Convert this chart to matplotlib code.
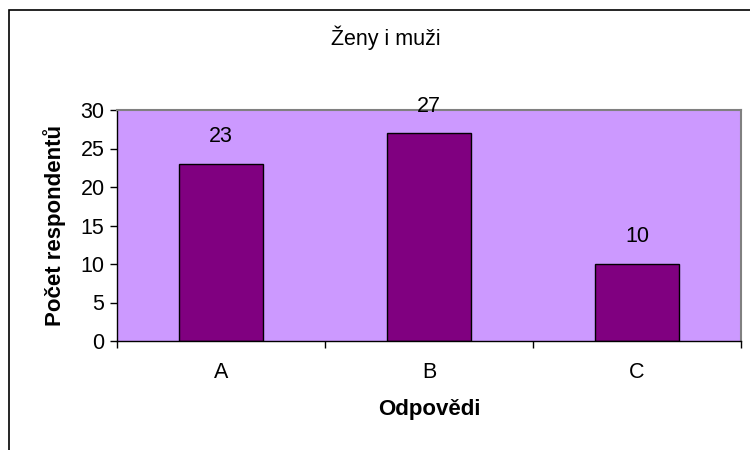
import matplotlib
matplotlib.use("Agg")
import matplotlib.pyplot as plt
from matplotlib.patches import Rectangle
from matplotlib.ticker import FixedLocator, NullFormatter

categories = ["A", "B", "C"]
values = [23, 27, 10]
title = "Ženy i muži"
x_label = "Odpovědi"
y_label = "Počet respondentů"

plt.rcParams['font.family'] = ['Liberation Sans', 'DejaVu Sans']

fig = plt.figure(figsize=(7.5, 4.5), dpi=100)
fig.patch.set_facecolor("white")
ax = fig.add_axes([117 / 750, 1 - 341 / 450, (741 - 117) / 750, (341 - 110) / 450])
ax.set_facecolor("#CC99FF")

# outer chart frame (runs off the canvas on the right and bottom)
fig.patches.append(Rectangle((9 / 750, -0.2), 1.2, 1.2 - 10 / 450,
                             transform=fig.transFigure, fill=False,
                             edgecolor="black", linewidth=1.2, clip_on=False))

xs = range(len(categories))
ax.bar(xs, values, width=0.405, color="#800080", edgecolor="black", linewidth=1.0)
for x, v in zip(xs, values):
    ax.annotate(str(v), (x, v), xytext=(0, 19.5), textcoords="offset points",
                ha="center", va="center", fontsize=15.5)

ax.set_xlim(-0.5, len(categories) - 0.5)
ax.set_ylim(0, 30)
ax.set_yticks(range(0, 31, 5))
ax.set_xticks(list(xs))
ax.set_xticklabels(categories)
ax.xaxis.set_minor_locator(FixedLocator([i - 0.5 for i in range(len(categories) + 1)]))
ax.xaxis.set_minor_formatter(NullFormatter())
ax.tick_params(axis="x", which="major", length=0, pad=15, labelsize=15.5)
ax.tick_params(axis="x", which="minor", length=5, width=1, direction="out")
ax.tick_params(axis="y", length=5, width=1, direction="out", labelsize=15.5, pad=4)

for side in ["top", "right"]:
    ax.spines[side].set_color("#808080")
    ax.spines[side].set_linewidth(1.5)
for side in ["left", "bottom"]:
    ax.spines[side].set_color("black")
    ax.spines[side].set_linewidth(1.0)

ax.set_xlabel(x_label, fontsize=16, fontweight="bold", labelpad=12)
ax.set_ylabel(y_label, fontsize=16, fontweight="bold", labelpad=10)
fig.text(386 / 750, 1 - 38 / 450, title, ha="center", va="center", fontsize=15.5)

fig.savefig("out.png", dpi=100)
